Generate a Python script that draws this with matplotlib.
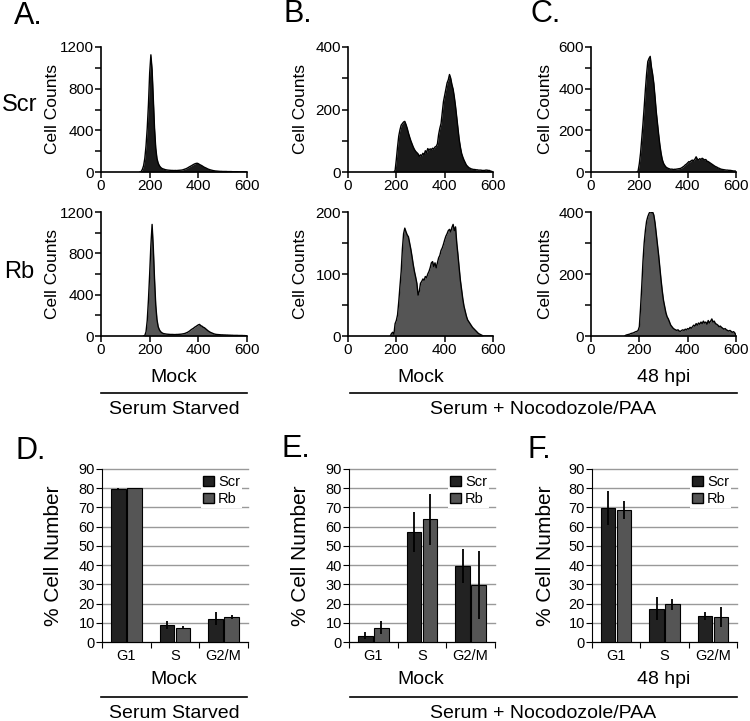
import numpy as np
import matplotlib
matplotlib.use('Agg')
import matplotlib.pyplot as plt
from matplotlib.patches import Patch
from matplotlib.lines import Line2D

plt.rcParams['font.family'] = ['Liberation Sans', 'DejaVu Sans']

# ---- flow cytometry histograms: counts in 5-unit DNA content channels ----
# each histogram: first channel + list of counts (channel step 5 up to 600)
scr_starved_start = 160
scr_starved = [0, 5, 25, 60, 130, 250, 420, 650, 950, 1125,
               980, 700, 420, 230, 130, 85, 60, 45, 35, 30,
               26, 22, 20, 18, 17, 16, 15, 15, 14, 15,
               14, 15, 16, 17, 18, 20, 24, 28, 32, 38,
               45, 52, 58, 65, 72, 78, 82, 84, 80, 72,
               66, 60, 52, 45, 40, 34, 28, 24, 20, 17,
               14, 12, 10, 9, 8, 7, 6, 6, 5, 5,
               5, 5, 4, 4, 4, 4, 3, 3, 3, 3,
               3, 2, 2, 2, 2, 2, 2, 1, 1]

rb_starved_start = 175
rb_starved = [0, 5, 40, 150, 350, 600, 880, 1080, 850, 550,
              300, 160, 90, 60, 42, 32, 25, 22, 20, 18,
              17, 16, 15, 15, 15, 14, 14, 15, 15, 16,
              17, 18, 20, 22, 25, 30, 35, 42, 50, 60,
              68, 75, 85, 92, 100, 108, 112, 100, 95, 85,
              80, 70, 60, 50, 42, 35, 30, 25, 20, 17,
              15, 14, 13, 12, 11, 11, 10, 10, 9, 9,
              8, 8, 7, 7, 6, 6, 6, 6, 5, 5,
              5, 5, 4, 4, 3, 3]

scr_mock_start = 190
scr_mock = [0, 5, 40, 80, 115, 135, 150, 155, 160, 162,
            152, 140, 125, 112, 100, 90, 80, 72, 66, 62,
            58, 50, 55, 52, 60, 55, 68, 62, 75, 70,
            74, 72, 76, 74, 80, 82, 90, 120, 140, 155,
            190, 225, 245, 265, 285, 295, 312, 300, 280, 265,
            240, 210, 175, 140, 105, 80, 60, 48, 38, 30,
            22, 18, 14, 12, 10, 9, 8, 8, 7, 7,
            6, 6, 6, 5, 5, 5, 6, 6, 5, 5,
            3, 2, 0]

rb_mock_start = 175
rb_mock = [0, 4, 6, 3, 20, 25, 34, 55, 80, 104,
           140, 165, 174, 168, 163, 160, 150, 140, 128, 115,
           104, 95, 85, 66, 72, 85, 88, 92, 90, 96,
           94, 100, 104, 110, 118, 120, 112, 118, 110, 118,
           126, 130, 138, 142, 148, 155, 161, 165, 170, 172,
           168, 175, 180, 170, 176, 150, 131, 110, 90, 75,
           60, 48, 40, 32, 26, 23, 20, 17, 14, 12,
           10, 8, 6, 4, 3, 2, 1, 0, 0, 0,
           0, 0, 0, 0, 0, 0]

scr_48_start = 190
scr_48 = [0, 5, 40, 90, 160, 230, 310, 395, 470, 530,
          545, 555, 505, 470, 425, 360, 290, 235, 180, 130,
          90, 60, 42, 32, 24, 20, 17, 15, 13, 14,
          12, 13, 13, 14, 15, 16, 17, 20, 24, 28,
          34, 38, 44, 50, 48, 55, 57, 54, 62, 73,
          62, 58, 64, 60, 66, 62, 58, 60, 52, 50,
          46, 42, 38, 34, 30, 26, 24, 20, 18, 15,
          13, 12, 11, 10, 9, 9, 8, 8, 7, 6,
          5, 5, 4]

rb_48_start = 140
rb_48 = [0, 3, 4, 5, 6, 8, 9, 10, 12, 14,
         15, 18, 30, 90, 160, 240, 300, 340, 370, 385,
         395, 402, 398, 400, 390, 365, 330, 295, 260, 220,
         180, 145, 115, 95, 75, 62, 55, 45, 35, 30,
         25, 22, 20, 18, 20, 16, 15, 18, 20, 18,
         22, 20, 24, 22, 28, 25, 30, 35, 32, 40,
         35, 42, 38, 45, 40, 48, 42, 45, 38, 50,
         42, 48, 55, 45, 48, 40, 38, 35, 30, 32,
         28, 25, 22, 24, 20, 18, 16, 18, 15, 12,
         14, 10, 2]

hist_xticks = [0, 200, 400, 600]

# ---- % cell number per cell-cycle phase ----
phases = ['G1', 'S', 'G2/M']
d_scr, d_scr_err = [79.5, 8.8, 12.0], [0.6, 2.2, 3.4]
d_rb, d_rb_err = [80.0, 7.5, 13.2], [0.2, 0.9, 1.0]
e_scr, e_scr_err = [3.3, 57.4, 39.5], [1.7, 10.4, 8.7]
e_rb, e_rb_err = [7.5, 63.8, 29.7], [3.5, 13.2, 17.5]
f_scr, f_scr_err = [69.9, 17.2, 13.7], [8.8, 6.0, 2.1]
f_rb, f_rb_err = [68.7, 19.6, 13.2], [4.9, 2.8, 5.2]

W, H = 750, 721
fig = plt.figure(figsize=(W / 100, H / 100), dpi=100)


def rect(x0, y_top, x1, y_bot):
    # pixel box -> figure fraction
    return [x0 / W, 1 - y_bot / H, (x1 - x0) / W, (y_bot - y_top) / H]


def draw_hist(box, start, counts, color, ymax, ystep, label_step, label_x=-0.28):
    ax = fig.add_axes(box)
    x = start + 5 * np.arange(len(counts))
    ax.fill_between(x, counts, color=color, linewidth=0)
    ax.plot(x, counts, color='black', lw=1.0)
    ax.set_xlim(0, 600)
    ax.set_ylim(0, ymax)
    for s in ['top', 'right']:
        ax.spines[s].set_visible(False)
    for s in ['left', 'bottom']:
        ax.spines[s].set_linewidth(1.2)
    ax.set_xticks(hist_xticks)
    yt = np.arange(0, ymax + 1, ystep)
    ax.set_yticks(yt)
    ax.set_yticklabels([str(v) if v % label_step == 0 else '' for v in yt])
    ax.tick_params(direction='out', length=4, width=1.1, labelsize=11, pad=1)
    ax.set_ylabel('Cell Counts', fontsize=12.5)
    ax.yaxis.set_label_coords(label_x, 0.5)
    return ax


def draw_bars(box, scr, scr_err, rb, rb_err, label_x=-0.27):
    ax = fig.add_axes(box)
    pos = np.arange(len(phases))
    ax.bar(pos - 0.165, scr, 0.3, color='#222222', edgecolor='black', lw=0.8, zorder=3)
    ax.bar(pos + 0.165, rb, 0.3, color='#555555', edgecolor='black', lw=0.8, zorder=3)
    ax.errorbar(pos - 0.165, scr, yerr=scr_err, fmt='none', ecolor='black',
                elinewidth=1.3, capsize=0, zorder=4)
    ax.errorbar(pos + 0.165, rb, yerr=rb_err, fmt='none', ecolor='black',
                elinewidth=1.3, capsize=0, zorder=4)
    ax.set_xlim(-0.5, 2.5)
    ax.set_ylim(0, 90)
    ax.set_yticks(range(0, 91, 10))
    ax.yaxis.grid(True, color='#999999', lw=1.0)
    for gl in ax.get_ygridlines():
        gl.set_clip_on(False)
    ax.set_axisbelow(True)
    for s in ['top', 'right']:
        ax.spines[s].set_visible(False)
    ax.set_xticks([-0.5, 0.5, 1.5, 2.5])
    ax.set_xticklabels([])
    ax.set_xticks(pos, minor=True)
    ax.set_xticklabels(phases, minor=True, fontsize=10.5)
    ax.tick_params(axis='x', which='minor', length=0, pad=5)
    ax.tick_params(axis='x', which='major', length=4, direction='out')
    ax.tick_params(axis='y', length=4, direction='out', labelsize=10.5, pad=1)
    ax.set_ylabel('% Cell Number', fontsize=15)
    ax.yaxis.set_label_coords(label_x, 0.5)
    handles = [Patch(facecolor='#222222', edgecolor='black', label='Scr'),
               Patch(facecolor='#555555', edgecolor='black', label='Rb')]
    leg = ax.legend(handles=handles, loc='upper right', bbox_to_anchor=(1.01, 1.02),
                    fontsize=10.5, handlelength=0.7, handleheight=0.75, handletextpad=0.3,
                    labelspacing=0.2, borderpad=0.15, frameon=True, fancybox=False)
    leg.get_frame().set_edgecolor('none')
    leg.get_frame().set_facecolor('white')
    leg.get_frame().set_alpha(1)
    return ax


# histogram rows
draw_hist(rect(101, 47, 247, 172), scr_starved_start, scr_starved, '#1a1a1a', 1200, 200, 400)
draw_hist(rect(101, 212, 247, 336), rb_starved_start, rb_starved, '#555555', 1200, 200, 400)
draw_hist(rect(348, 47, 493, 172), scr_mock_start, scr_mock, '#1a1a1a', 400, 100, 200, -0.275)
draw_hist(rect(348, 212, 493, 336), rb_mock_start, rb_mock, '#555555', 200, 50, 100, -0.275)
draw_hist(rect(591, 47, 736, 172), scr_48_start, scr_48, '#1a1a1a', 600, 100, 200, -0.26)
draw_hist(rect(591, 212, 736, 336), rb_48_start, rb_48, '#555555', 400, 100, 200, -0.26)

# bar panels
draw_bars(rect(102, 469, 248, 642), d_scr, d_scr_err, d_rb, d_rb_err, -0.27)
draw_bars(rect(349, 469, 495, 642), e_scr, e_scr_err, e_rb, e_rb_err, -0.265)
draw_bars(rect(592, 469, 737, 642), f_scr, f_scr_err, f_rb, f_rb_err, -0.255)


def ftext(px, py, s, size, ha='center'):
    fig.text(px / W, 1 - py / H, s, fontsize=size, ha=ha, va='center')


def fline(x0, x1, py):
    fig.add_artist(Line2D([x0 / W, x1 / W], [1 - py / H, 1 - py / H],
                          transform=fig.transFigure, color='black', lw=1.2))


# panel letters
for px, py, s in [(14, 16, 'A.'), (283, 14, 'B.'), (530, 14, 'C.'),
                  (15, 451, 'D.'), (281, 449, 'E.'), (528, 450, 'F.')]:
    ftext(px, py, s, 22, ha='left')

ftext(2, 105, 'Scr', 17, ha='left')
ftext(4, 272, 'Rb', 17, ha='left')

# condition labels under histograms and bars
for row_label, row_line, row_group in [(377, 393, 410), (679, 697, 713)]:
    ftext(174, row_label, 'Mock', 14)
    ftext(421, row_label, 'Mock', 14)
    ftext(664, row_label, '48 hpi', 14)
    fline(101, 247, row_line)
    fline(350, 737, row_line)
    ftext(174, row_group, 'Serum Starved', 14)
    ftext(543, row_group, 'Serum + Nocodozole/PAA', 14)

fig.savefig('out.png', dpi=100)
